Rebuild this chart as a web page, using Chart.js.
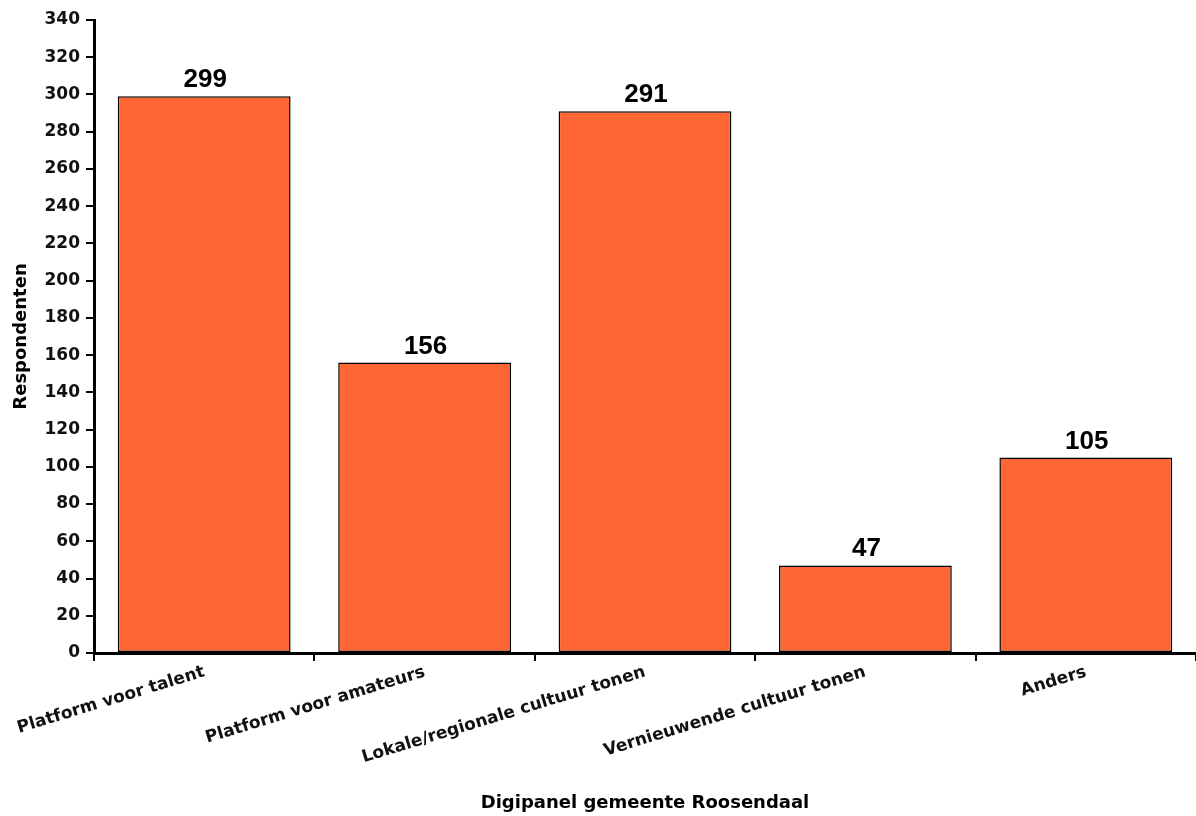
<!DOCTYPE html>
<html>
<head>
<meta charset="utf-8">
<title>Digipanel gemeente Roosendaal</title>
<script src="https://cdn.jsdelivr.net/npm/chart.js@4.4.1/dist/chart.umd.min.js"></script>
<style>
    html, body { margin: 0; padding: 0; background: #fff; }
    #chartBox { width: 1196px; height: 816px; }
</style>
</head>
<body>
<div id="chartBox"><canvas id="surveyChart"></canvas></div>
<script>
//! ========================== Data ==========================
const categories = [
    'Platform voor talent',
    'Platform voor amateurs',
    'Lokale/regionale cultuur tonen',
    'Vernieuwende cultuur tonen',
    'Anders'
];
const respondents = [299, 156, 291, 47, 105];

const yMin = 0;
const yMax = 340;
const yStep = 20;

const xTitle = 'Digipanel gemeente Roosendaal';
const yTitle = 'Respondenten';

//! ===================== Value labels plugin ====================
const valueLabels = {
    id: 'valueLabels',
    afterDatasetsDraw(chart) {
        const ctx = chart.ctx;
        const meta = chart.getDatasetMeta(0);
        ctx.save();
        ctx.font = 'bold 26px "Liberation Sans", Arial, sans-serif';
        ctx.fillStyle = '#000';
        ctx.textAlign = 'center';
        ctx.textBaseline = 'alphabetic';
        meta.data.forEach((bar, i) => {
            ctx.fillText(chart.data.datasets[0].data[i], bar.x + 1, bar.y - 9);
        });
        ctx.restore();
    }
};

//! ========================== Chart ==========================
function drawChart() {
    const tickFont = { family: '"DejaVu Sans", sans-serif', weight: 'bold', size: 17 };
    const titleFont = { family: '"DejaVu Sans", sans-serif', weight: 'bold', size: 18 };
    const ctx = document.getElementById('surveyChart').getContext('2d');

    new Chart(ctx, {
        type: 'bar',
        data: {
            labels: categories,
            datasets: [{
                data: respondents,
                backgroundColor: '#FF6633',
                borderColor: '#000',
                borderWidth: 1.5,
                borderSkipped: false,
                barPercentage: 0.784,
                categoryPercentage: 1
            }]
        },
        options: {
            responsive: true,
            maintainAspectRatio: false,
            animation: false,
            layout: { padding: { top: 20, right: 0, bottom: 0, left: 0 } },
            plugins: {
                legend: { display: false },
                tooltip: { enabled: false }
            },
            scales: {
                x: {
                    offset: true,
                    border: { display: true, color: '#000', width: 3 },
                    grid: {
                        offset: true,
                        drawOnChartArea: false,
                        drawTicks: true,
                        tickLength: 8,
                        color: '#000',
                        lineWidth: 2
                    },
                    ticks: {
                        color: '#111',
                        font: tickFont,
                        minRotation: 17,
                        maxRotation: 17,
                        autoSkip: false,
                        padding: 1
                    },
                    title: {
                        display: true,
                        text: xTitle,
                        color: '#000',
                        font: titleFont,
                        padding: { top: 0, bottom: 2 }
                    },
                    afterFit: scale => { scale.height = 163; }
                },
                y: {
                    min: yMin,
                    max: yMax,
                    border: { display: true, color: '#000', width: 3 },
                    grid: {
                        drawOnChartArea: false,
                        drawTicks: true,
                        tickLength: 8,
                        color: '#000',
                        lineWidth: 2
                    },
                    ticks: {
                        stepSize: yStep,
                        color: '#111',
                        font: tickFont,
                        padding: 6
                    },
                    title: {
                        display: true,
                        text: yTitle,
                        color: '#000',
                        font: titleFont,
                        padding: { top: 11, bottom: 0 }
                    },
                    afterFit: scale => { scale.width = 94; }
                }
            }
        },
        plugins: [valueLabels]
    });
}

drawChart();
</script>
</body>
</html>
